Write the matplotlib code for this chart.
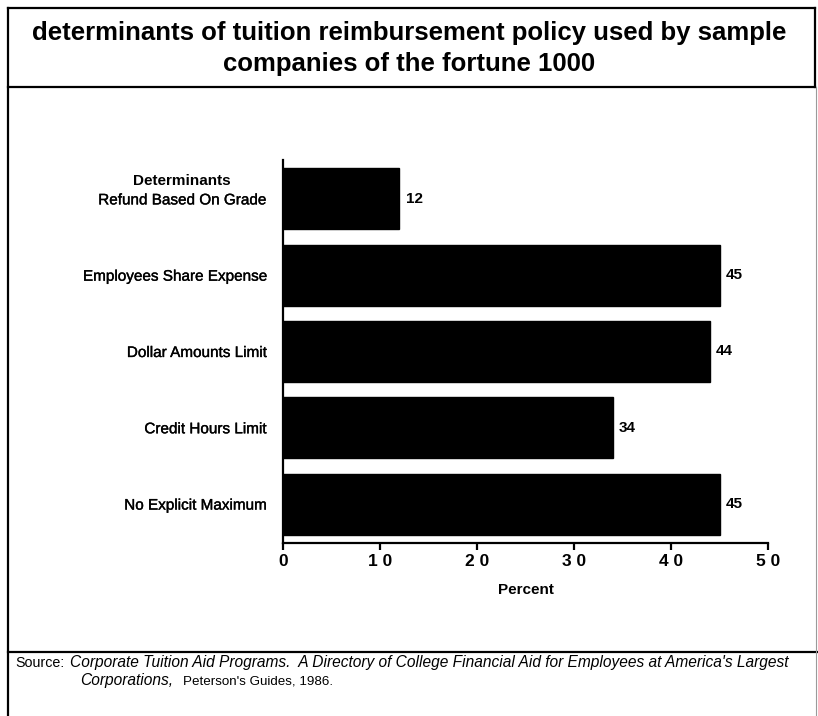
import matplotlib
matplotlib.use("Agg")
import matplotlib.pyplot as plt
from matplotlib.lines import Line2D
import matplotlib.patheffects as pe

plt.rcParams['font.family'] = ['Liberation Sans', 'DejaVu Sans']

# Data
categories = [
    "Refund Based On Grade",
    "Employees Share Expense",
    "Dollar Amounts Limit",
    "Credit Hours Limit",
    "No Explicit Maximum",
]
percent = [12, 45, 44, 34, 45]
x_ticks = [0, 10, 20, 30, 40, 50]
x_tick_labels = ["0", "1 0", "2 0", "3 0", "4 0", "5 0"]

title = ("determinants of tuition reimbursement policy used by sample\n"
         "companies of the fortune 1000")
group_heading = "Determinants"
x_label = "Percent"

W, H = 818, 716
fig = plt.figure(figsize=(W / 100, H / 100), dpi=100)

def fx(px):
    return px / W

def fy(py):
    return 1 - py / H

medium = [pe.withStroke(linewidth=0.25, foreground="black")]

# Plot area
ax = fig.add_axes([fx(283), fy(543), fx(768) - fx(283), fy(160) - fy(543)])
pos = list(range(len(categories)))
ax.barh(pos, percent, height=0.8, color="black", edgecolor="black")
ax.set_ylim(len(categories) - 0.49, -0.51)
ax.set_xlim(0, 50)

ax.set_yticks(pos)
ax.set_yticklabels(categories, fontsize=11)
for lbl in ax.get_yticklabels():
    lbl.set_path_effects(medium)
ax.tick_params(axis="y", length=0, pad=12)
ax.set_xticks(x_ticks)
ax.set_xticklabels(x_tick_labels, fontsize=12.5, fontweight="bold")
ax.tick_params(axis="x", length=5, width=1.6, pad=3, direction="out")

for s in ("top", "right"):
    ax.spines[s].set_visible(False)
for s in ("left", "bottom"):
    ax.spines[s].set_linewidth(1.6)

ax.set_xlabel(x_label, fontsize=11, fontweight="bold", labelpad=10)

for p, v in zip(pos, percent):
    ax.annotate(str(v), xy=(v, p), xytext=(4.5, 0), textcoords="offset points",
                ha="left", va="center", fontsize=11, fontweight="bold")

# Heading above the first category label
first_label = ax.get_yticklabels()[0]
ax.annotate(group_heading, xy=(0.5, 1.0), xycoords=first_label,
            xytext=(0, 4), textcoords="offset points",
            ha="center", va="bottom", fontsize=11, fontweight="bold")

# Title
fig.text(0.5, fy(48.5), title, ha="center", va="center", fontsize=18.5,
         fontweight="bold", linespacing=1.35)

# Frame lines
lw = 1.6
frame = [
    ((8, 815), (8, 8)),      # top
    ((8, 8), (8, 716)),      # left
    ((8, 815), (87, 87)),    # under title
    ((8, 818), (652, 652)),  # above source
]
for xs, ys in frame:
    fig.add_artist(Line2D([fx(x) for x in xs], [fy(y) for y in ys],
                          color="black", linewidth=lw))
fig.add_artist(Line2D([fx(815), fx(815)], [fy(8), fy(87)],
                      color="black", linewidth=lw))
fig.add_artist(Line2D([fx(816), fx(816)], [fy(87), fy(716)],
                      color="#9a9a9a", linewidth=0.8))

# Source note
fig.text(fx(15), fy(663), "Source:", ha="left", va="center", fontsize=10.3)
fig.text(fx(70), fy(663),
         "Corporate Tuition Aid Programs.  A Directory of College Financial Aid "
         "for Employees at America's Largest",
         ha="left", va="center", fontsize=11.2, style="italic")
fig.text(fx(80), fy(681), "Corporations,", ha="left", va="center",
         fontsize=11.2, style="italic")
fig.text(fx(183), fy(681), "Peterson's Guides, 1986.", ha="left", va="center",
         fontsize=9.6)

fig.savefig("out.png", dpi=100)
